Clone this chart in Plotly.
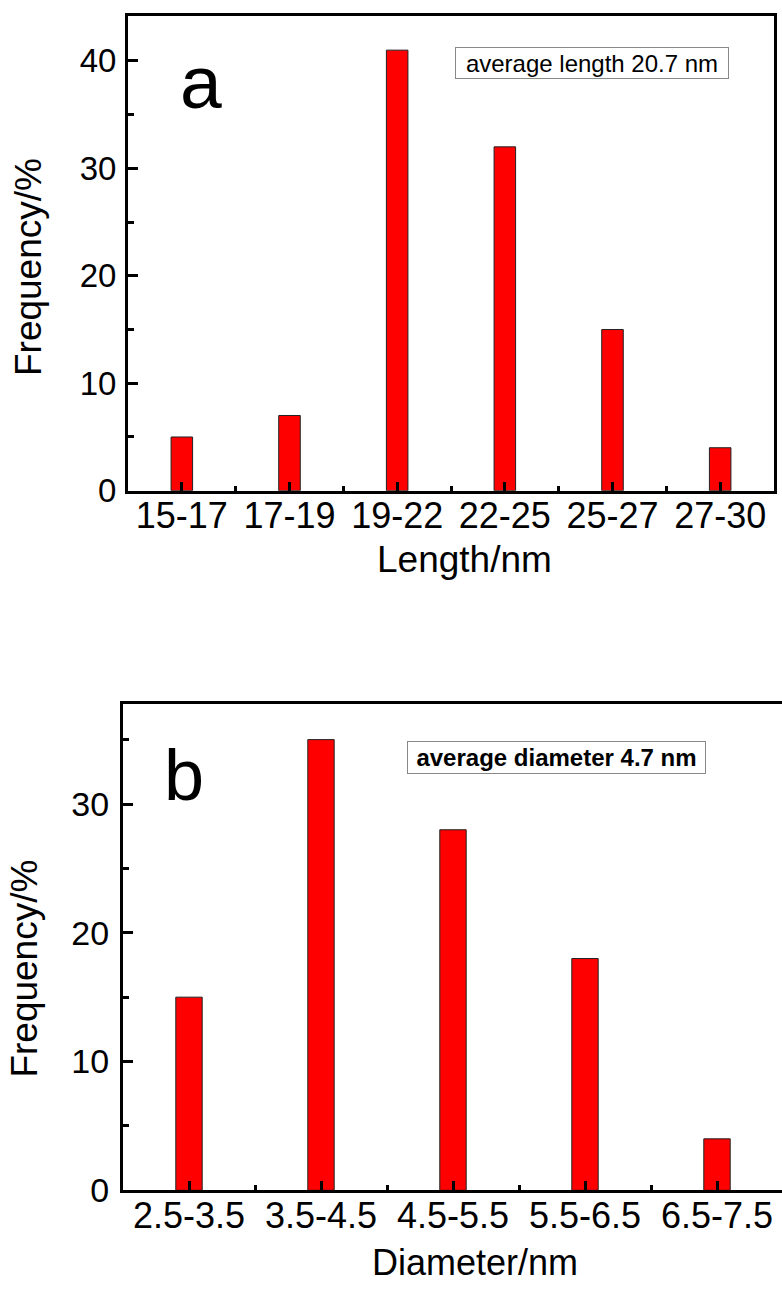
import plotly.graph_objects as go

# ---- data ----
len_cats = ["15-17", "17-19", "19-22", "22-25", "25-27", "27-30"]
len_freq = [5, 7, 41, 32, 15, 4]
dia_cats = ["2.5-3.5", "3.5-4.5", "4.5-5.5", "5.5-6.5", "6.5-7.5"]
dia_freq = [15, 35, 28, 18, 4]
len_yticks = [0, 10, 20, 30, 40]
dia_yticks = [0, 10, 20, 30]

W, H = 782, 1299
FONT = "Liberation Sans, Arial, sans-serif"

def px_x(p):
    return p / W

def px_y(p):
    return 1 - p / H

len_pos = list(range(len(len_cats)))
dia_pos = list(range(len(dia_cats)))

fig = go.Figure()
fig.add_trace(go.Bar(x=len_pos, y=len_freq, width=0.2, xaxis="x", yaxis="y",
                     marker=dict(color="#FF0000", line=dict(color="#222222", width=1)),
                     showlegend=False))
fig.add_trace(go.Bar(x=dia_pos, y=dia_freq, width=0.2, xaxis="x2", yaxis="y2",
                     marker=dict(color="#FF0000", line=dict(color="#222222", width=1)),
                     showlegend=False))

axis_common = dict(showline=True, linewidth=3, linecolor="black", showgrid=False,
                   zeroline=False, ticks="inside", tickwidth=3, tickcolor="black")

# panel b: category spacing ~132px, plot area runs past the right edge
b_left, b_right, b_step = 123, 782, 132.0

fig.update_layout(
    width=W, height=H, margin=dict(l=0, r=0, t=0, b=0),
    paper_bgcolor="white", plot_bgcolor="white",
    font=dict(family=FONT, color="black"),
    xaxis=dict(domain=[px_x(128), px_x(774)], anchor="y", range=[-0.5, len(len_cats) - 0.5],
               tickvals=len_pos, ticktext=len_cats, ticklen=9, mirror=True,
               tickfont=dict(size=36, family=FONT), ticklabelstandoff=-9,
               minor=dict(tickvals=[p + 0.5 for p in len_pos[:-1]], ticks="inside",
                          ticklen=5, tickwidth=3, tickcolor="black"),
               **axis_common),
    yaxis=dict(domain=[px_y(498), px_y(16)], anchor="x", range=[0, 44.2],
               tickvals=len_yticks, ticklen=10, mirror=True,
               tickfont=dict(size=33, family=FONT), ticklabelstandoff=2,
               minor=dict(dtick=5, tick0=5, ticks="inside", ticklen=6, tickwidth=3,
                          tickcolor="black"),
               **axis_common),
    xaxis2=dict(domain=[px_x(b_left), 1.0], anchor="y2",
                range=[-0.5, -0.5 + (b_right - b_left) / b_step],
                tickvals=dia_pos, ticktext=dia_cats, ticklen=9, mirror=True,
                tickfont=dict(size=36, family=FONT), ticklabelstandoff=-9,
                minor=dict(tickvals=[p + 0.5 for p in dia_pos[:-1]], ticks="inside",
                           ticklen=5, tickwidth=3, tickcolor="black"),
                **axis_common),
    yaxis2=dict(domain=[px_y(1208), px_y(714)], anchor="x2", range=[0, 37.8],
                tickvals=dia_yticks, ticklen=10,
                tickfont=dict(size=34, family=FONT), ticklabelstandoff=4,
                minor=dict(dtick=5, tick0=5, ticks="inside", ticklen=6, tickwidth=3,
                           tickcolor="black"),
                **axis_common),
)

def note(text, x, y, size, **kw):
    d = dict(text=text, xref="paper", yref="paper", x=px_x(x), y=px_y(y),
             xanchor="center", yanchor="middle", showarrow=False,
             font=dict(size=size, family=FONT))
    d.update(kw)
    return d

ann = [
    note("a", 201, 83, 75),
    note("b", 184, 786, 72),
    note("average length 20.7 nm", 592, 64, 24, width=272, height=30,
         bordercolor="#888888", borderwidth=1, borderpad=0, bgcolor="white"),
    note("<b>average diameter 4.7 nm</b>", 556, 769, 24, width=297, height=31,
         bordercolor="#888888", borderwidth=1, borderpad=0, bgcolor="white"),
    note("Frequency/%", 28, 271, 37, textangle=-90),
    note("Frequency/%", 25, 983, 37, textangle=-90),
    note("Length/nm", 465, 568, 37),
    note("Diameter/nm", 475, 1281, 36),
]
fig.update_layout(annotations=ann)

# pin the figure to the window's top-left corner so the page is exactly the window size
post = ("document.body.style.margin='0';"
        "var gd=document.getElementById('{plot_id}');"
        "gd.style.position='absolute';gd.style.left='0px';gd.style.top='0px';")
fig.write_html("out.html", config={"displayModeBar": False}, post_script=post)
